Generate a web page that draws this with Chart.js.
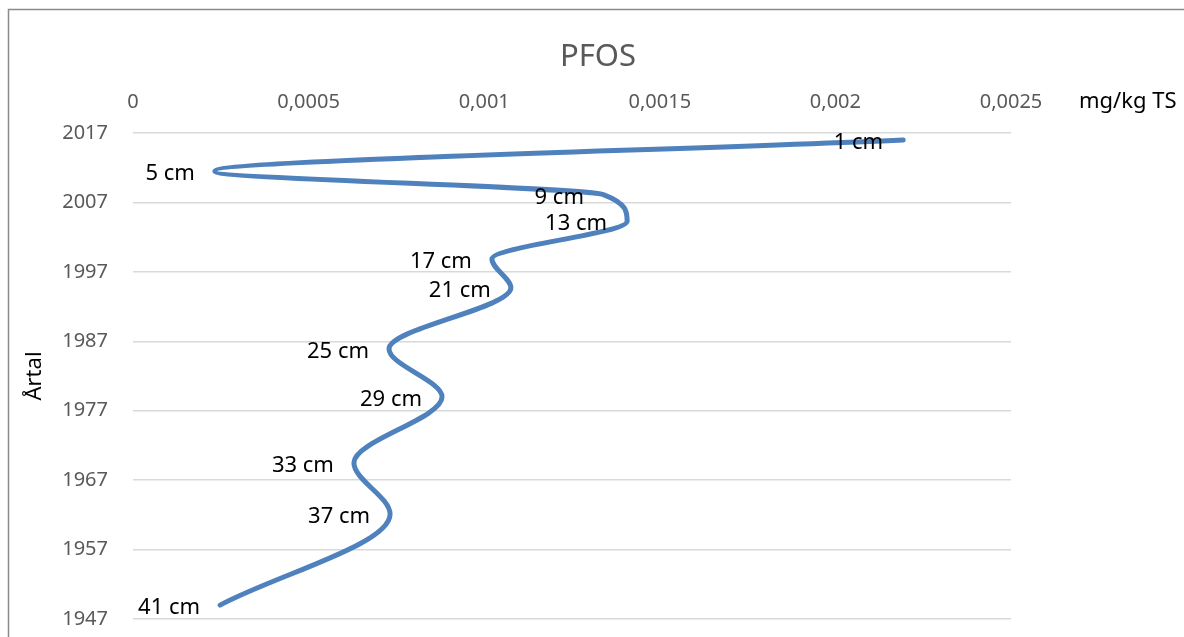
<!DOCTYPE html>
<html>
<head>
<meta charset="utf-8">
<script src="https://cdn.jsdelivr.net/npm/chart.js@4.4.1/dist/chart.umd.min.js"></script>
<style>
  html, body { margin: 0; padding: 0; background: #ffffff; }
  #wrap { position: relative; width: 1184px; height: 637px; }
  canvas { display: block; }
</style>
</head>
<body>
<div id="wrap"><canvas id="c" width="1184" height="637"></canvas></div>
<script>
// ---- data ----
const depthLabels = ['1 cm', '5 cm', '9 cm', '13 cm', '17 cm', '21 cm', '25 cm', '29 cm', '33 cm', '37 cm', '41 cm'];
const pfosValues  = [0.002193, 0.000233, 0.001341, 0.001407, 0.001022, 0.001076, 0.000729, 0.000880, 0.000629, 0.000732, 0.000248];
const yearValues  = [2016.0, 2011.5, 2008.1, 2004.3, 1998.85, 1994.7, 1985.9, 1979.0, 1969.5, 1962.1, 1949.0];
const xTickValues = [0, 0.0005, 0.001, 0.0015, 0.002, 0.0025];
const xTickLabels = ['0', '0,0005', '0,001', '0,0015', '0,002', '0,0025'];
const yTickValues = [1947, 1957, 1967, 1977, 1987, 1997, 2007, 2017];
const chartTitle = 'PFOS';
const xUnit = 'mg/kg TS';
const yTitle = 'Årtal';

const FONT = "'Noto Sans', 'Open Sans', sans-serif";
const points = pfosValues.map((v, i) => ({ x: v, y: yearValues[i] }));

const framePlugin = {
  id: 'frame',
  beforeDraw(chart) {
    const ctx = chart.ctx;
    ctx.save();
    ctx.fillStyle = '#ffffff';
    ctx.fillRect(0, 0, chart.width, chart.height);
    ctx.restore();
  },
  afterDraw(chart) {
    const ctx = chart.ctx;
    ctx.save();
    ctx.strokeStyle = '#8a8a8a';
    ctx.lineWidth = 1.5;
    ctx.strokeRect(8.5, 9.5, chart.width + 20, chart.height + 20);
    ctx.restore();
  }
};

const labelPlugin = {
  id: 'depthLabels',
  afterDatasetsDraw(chart) {
    const ctx = chart.ctx;
    const meta = chart.getDatasetMeta(0);
    ctx.save();
    ctx.font = '22px ' + FONT;
    ctx.fillStyle = '#000000';
    ctx.textAlign = 'right';
    ctx.textBaseline = 'middle';
    meta.data.forEach((pt, i) => {
      ctx.fillText(depthLabels[i], pt.x - 20, pt.y + 3);
    });
    // unit text to the right of the top axis
    const xs = chart.scales.x;
    ctx.textAlign = 'left';
    ctx.fillText(xUnit, xs.right + 68, xs.bottom - 31);
    ctx.restore();
  }
};

new Chart(document.getElementById('c'), {
  type: 'line',
  data: {
    datasets: [{
      data: points,
      borderColor: '#4f81bd',
      borderWidth: 5,
      borderCapStyle: 'round',
      borderJoinStyle: 'round',
      pointRadius: 0,
      pointHoverRadius: 0,
      fill: false,
      cubicInterpolationMode: 'monotone'
    }]
  },
  options: {
    indexAxis: 'y',
    responsive: false,
    animation: false,
    events: [],
    layout: { padding: { left: 12, right: 0, top: 0, bottom: 18 } },
    plugins: {
      legend: { display: false },
      tooltip: { enabled: false },
      title: {
        display: true,
        text: chartTitle,
        color: '#595959',
        font: { family: FONT, size: 31, weight: 'normal', lineHeight: 1.2 },
        padding: { top: 39, bottom: 0 }
      }
    },
    scales: {
      x: {
        type: 'linear',
        position: 'top',
        min: 0,
        max: 0.0025,
        afterBuildTicks(scale) { scale.ticks = xTickValues.map(v => ({ value: v })); },
        afterFit(scale) { scale.height = 133 - 76.2; scale.paddingLeft = 0; scale.paddingRight = 0; },
        ticks: {
          color: '#595959',
          font: { family: FONT, size: 20, lineHeight: 1.2 },
          padding: 19,
          maxRotation: 0,
          autoSkip: false,
          callback(value) {
            const idx = xTickValues.findIndex(t => Math.abs(t - value) < 1e-9);
            return idx >= 0 ? xTickLabels[idx] : '';
          }
        },
        grid: { display: false, drawTicks: false },
        border: { display: false }
      },
      y: {
        type: 'linear',
        position: 'left',
        min: 1947,
        max: 2017,
        afterBuildTicks(scale) { scale.ticks = yTickValues.map(v => ({ value: v })); },
        afterFit(scale) { scale.width = 121; scale.paddingTop = 0; scale.paddingBottom = 0; },
        ticks: {
          color: '#595959',
          font: { family: FONT, size: 20, lineHeight: 1.2 },
          padding: 25,
          autoSkip: false,
          callback(value) { return String(value); }
        },
        grid: { color: '#d9d9d9', lineWidth: 1.5, drawTicks: false },
        border: { display: false },
        title: {
          display: true,
          text: yTitle,
          color: '#000000',
          font: { family: FONT, size: 22, lineHeight: 1.2 },
          padding: { top: 10, bottom: 0 }
        }
      },
      yRight: {
        type: 'linear',
        position: 'right',
        display: true,
        afterFit(scale) { scale.width = 173; scale.paddingTop = 0; scale.paddingBottom = 0; },
        ticks: { display: false },
        grid: { display: false, drawTicks: false },
        border: { display: false }
      }
    }
  },
  plugins: [framePlugin, labelPlugin]
});
</script>
</body>
</html>
